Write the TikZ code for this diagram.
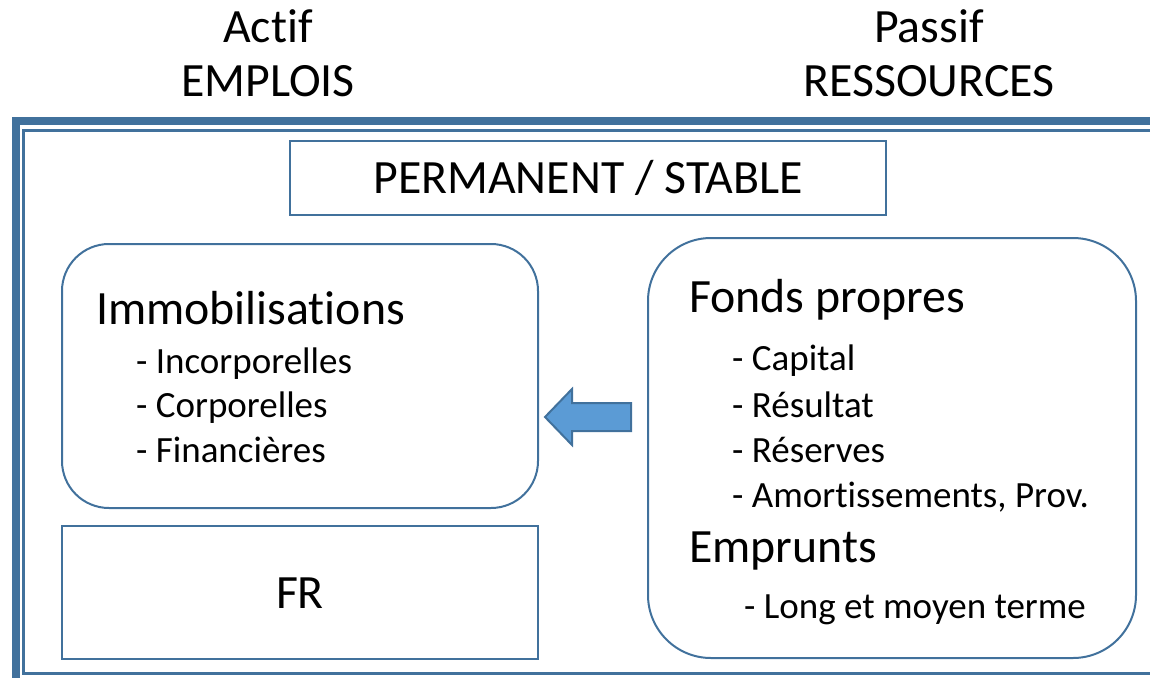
\documentclass[tikz,border=0pt]{standalone}
\usepackage{fontspec}
\setmainfont{Carlito}[Ligatures=NoCommon]
\definecolor{lineblue}{HTML}{41719C}
\definecolor{fillblue}{HTML}{5B9BD5}
\begin{document}
\begin{tikzpicture}[x=1pt,y=-1pt,
  box/.style={draw=lineblue, line width=2pt, inner sep=0pt},
  big/.style={font=\fontsize{47.8}{56}\selectfont, inner sep=0pt},
  small/.style={font=\fontsize{37}{44}\selectfont, inner sep=0pt}]
\useasboundingbox (0,0) rectangle (1150,677);
\clip (0,0) rectangle (1150,677);

% double frame running off the page to the right and bottom
\draw[lineblue, line width=8pt] (16,121) rectangle (1200,720);
\draw[lineblue, line width=3pt] (23.5,130.5) rectangle (1190,673.5);

% column headings
\node[big, anchor=base] (actif) at (268,43) {Actif};
\node[big, anchor=base] (emplois) at (268,96) {EMPLOIS};
\node[big, anchor=base] (passif) at (929,43) {Passif};
\node[big, anchor=base] (ressources) at (929,96) {RESSOURCES};

% boxes
\node[box, minimum width=596pt, minimum height=74pt] (perm) at (588,178) {};
\node[box, rounded corners=47pt, minimum width=476pt, minimum height=264pt] (immo) at (300,376) {};
\node[box, minimum width=476pt, minimum height=133pt] (fr) at (300,592.5) {};
\node[box, rounded corners=63pt, minimum width=488pt, minimum height=420pt] (res) at (892,448) {};

% texts
\node[big, anchor=base] (permtxt) at (perm.center |- 0,193) {PERMANENT / STABLE};
\node[big, anchor=base west] (immotxt) at (96,324) {Immobilisations};
\node[small, anchor=base west] (i1) at (136,373) {- Incorporelles};
\node[small, anchor=base west] (i2) at (136,417) {- Corporelles};
\node[small, anchor=base west] (i3) at (136,462) {- Financières};
\node[big, anchor=base] (frtxt) at (300,608) {FR};
\node[big, anchor=base west] (fp) at (689,312) {Fonds propres};
\node[small, anchor=base west] (f1) at (732,370) {- Capital};
\node[small, anchor=base west] (f2) at (732,417) {- Résultat};
\node[small, anchor=base west] (f3) at (732,462) {- Réserves};
\node[small, anchor=base west] (f4) at (732,507) {- Amortissements, Prov.};
\node[big, anchor=base west] (emp) at (689,562) {Emprunts};
\node[small, anchor=base west] (e1) at (744,618) {- Long et moyen terme};

% block arrow from resources to uses
\draw[lineblue, line width=2pt, fill=fillblue, line join=miter]
  (545,417) -- (572,389) -- (572,403) -- (631,403) -- (631,431)
  -- (572,431) -- (572,445) -- cycle;
\end{tikzpicture}
\end{document}
